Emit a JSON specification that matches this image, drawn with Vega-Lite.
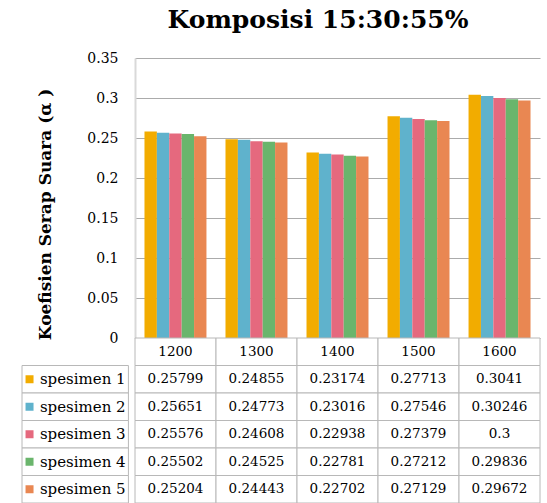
{
  "$schema": "https://vega.github.io/schema/vega-lite/v6.json",
  "background": "white",
  "padding": {"left": 21, "top": 8, "right": 0, "bottom": 0},
  "title": {"text": "Komposisi 15:30:55%", "font": "DejaVu Serif", "fontSize": 25, "fontWeight": "bold", "color": "black", "anchor": "middle", "dx": 37, "offset": 18},
  "config": {"view": {"stroke": null}, "font": "DejaVu Serif"},
  "spacing": 0,
  "bounds": "flush",
  "datasets": {
    "d": [
      {"freq": "1200", "series": "spesimen 1", "value": 0.25799},
      {"freq": "1200", "series": "spesimen 2", "value": 0.25651},
      {"freq": "1200", "series": "spesimen 3", "value": 0.25576},
      {"freq": "1200", "series": "spesimen 4", "value": 0.25502},
      {"freq": "1200", "series": "spesimen 5", "value": 0.25204},
      {"freq": "1300", "series": "spesimen 1", "value": 0.24855},
      {"freq": "1300", "series": "spesimen 2", "value": 0.24773},
      {"freq": "1300", "series": "spesimen 3", "value": 0.24608},
      {"freq": "1300", "series": "spesimen 4", "value": 0.24525},
      {"freq": "1300", "series": "spesimen 5", "value": 0.24443},
      {"freq": "1400", "series": "spesimen 1", "value": 0.23174},
      {"freq": "1400", "series": "spesimen 2", "value": 0.23016},
      {"freq": "1400", "series": "spesimen 3", "value": 0.22938},
      {"freq": "1400", "series": "spesimen 4", "value": 0.22781},
      {"freq": "1400", "series": "spesimen 5", "value": 0.22702},
      {"freq": "1500", "series": "spesimen 1", "value": 0.27713},
      {"freq": "1500", "series": "spesimen 2", "value": 0.27546},
      {"freq": "1500", "series": "spesimen 3", "value": 0.27379},
      {"freq": "1500", "series": "spesimen 4", "value": 0.27212},
      {"freq": "1500", "series": "spesimen 5", "value": 0.27129},
      {"freq": "1600", "series": "spesimen 1", "value": 0.3041},
      {"freq": "1600", "series": "spesimen 2", "value": 0.30246},
      {"freq": "1600", "series": "spesimen 3", "value": 0.3},
      {"freq": "1600", "series": "spesimen 4", "value": 0.29836},
      {"freq": "1600", "series": "spesimen 5", "value": 0.29672}
    ]
  },
  "vconcat": [
    {
      "width": 405,
      "height": 280,
      "data": {"name": "d"},
      "mark": {"type": "bar"},
      "encoding": {
        "x": {"field": "freq", "type": "nominal", "scale": {"paddingInner": 0.235, "paddingOuter": 0.117}, "axis": null},
        "xOffset": {"field": "series", "type": "nominal", "scale": {"paddingInner": 0, "paddingOuter": 0}},
        "y": {
          "field": "value", "type": "quantitative",
          "scale": {"domain": [0, 0.35], "nice": false},
          "axis": {
            "title": "Koefisien Serap Suara (α )",
            "titleFont": "DejaVu Serif", "titleFontSize": 17, "titleFontWeight": "bold", "titleColor": "black", "titlePadding": 32, "titleY": 156,
            "values": [0, 0.05, 0.1, 0.15, 0.2, 0.25, 0.3, 0.35], "format": "~g",
            "labelFont": "DejaVu Serif", "labelFontSize": 14, "labelColor": "black", "labelPadding": 17, "labelFlush": false,
            "ticks": false, "domain": true, "domainColor": "#d9d9d9", "domainWidth": 2,
            "grid": true, "gridColor": "#ababab", "gridWidth": 1
          }
        },
        "color": {"field": "series", "type": "nominal",
          "scale": {"domain": ["spesimen 1", "spesimen 2", "spesimen 3", "spesimen 4", "spesimen 5"], "range": ["#F2AC00", "#5FB2CC", "#E5697E", "#6AB56C", "#E98752"]},
          "legend": null}
      }
    },
    {
      "width": 405,
      "height": 165,
      "resolve": {"scale": {"x": "independent"}},
      "layer": [
        {
          "layer": [
            {
              "data": {"name": "d"},
              "mark": {"type": "rect", "fill": "white", "stroke": "#b8b8b8", "strokeWidth": 1},
              "encoding": {
                "x": {"field": "freq", "type": "nominal", "scale": {"paddingInner": 0, "paddingOuter": 0}, "axis": null},
                "y": {"field": "series", "type": "nominal", "scale": {"domain": ["hdr", "spesimen 1", "spesimen 2", "spesimen 3", "spesimen 4", "spesimen 5"], "paddingInner": 0, "paddingOuter": 0}, "axis": null}
              }
            },
            {
              "data": {"name": "d"},
              "mark": {"type": "text", "font": "DejaVu Serif", "fontSize": 13.5, "color": "black"},
              "encoding": {
                "x": {"field": "freq", "type": "nominal", "axis": null},
                "y": {"field": "series", "type": "nominal", "scale": {"domain": ["hdr", "spesimen 1", "spesimen 2", "spesimen 3", "spesimen 4", "spesimen 5"], "paddingInner": 0, "paddingOuter": 0}, "axis": null},
                "text": {"field": "value", "type": "nominal"}
              }
            },
            {
              "data": {"name": "d"},
              "transform": [{"filter": "datum.series == 'spesimen 1'"}],
              "mark": {"type": "rect", "fill": "white", "stroke": "#b8b8b8", "strokeWidth": 1},
              "encoding": {
                "x": {"field": "freq", "type": "nominal", "axis": null},
                "y": {"datum": "hdr", "type": "nominal", "scale": {"domain": ["hdr", "spesimen 1", "spesimen 2", "spesimen 3", "spesimen 4", "spesimen 5"], "paddingInner": 0, "paddingOuter": 0}, "axis": null}
              }
            },
            {
              "data": {"name": "d"},
              "transform": [{"filter": "datum.series == 'spesimen 1'"}],
              "mark": {"type": "text", "font": "DejaVu Serif", "fontSize": 13.5, "color": "black"},
              "encoding": {
                "x": {"field": "freq", "type": "nominal", "axis": null},
                "y": {"datum": "hdr", "type": "nominal", "scale": {"domain": ["hdr", "spesimen 1", "spesimen 2", "spesimen 3", "spesimen 4", "spesimen 5"], "paddingInner": 0, "paddingOuter": 0}, "axis": null},
                "text": {"field": "freq", "type": "nominal"}
              }
            }
          ]
        },
        {
          "data": {"name": "d"},
          "transform": [{"filter": "datum.freq == '1200'"}],
          "layer": [
            {
              "mark": {"type": "rect", "fill": "white", "stroke": "#b8b8b8", "strokeWidth": 1},
              "encoding": {
                "x": {"datum": 0, "type": "quantitative", "scale": {"domain": [0, 113], "range": [-113, 0]}, "axis": null},
                "x2": {"datum": 113},
                "y": {"field": "series", "type": "nominal", "scale": {"domain": ["hdr", "spesimen 1", "spesimen 2", "spesimen 3", "spesimen 4", "spesimen 5"], "paddingInner": 0, "paddingOuter": 0}, "axis": null}
              }
            },
            {
              "mark": {"type": "point", "shape": "square", "filled": true, "size": 64, "opacity": 1},
              "encoding": {
                "x": {"datum": 8, "type": "quantitative", "axis": null},
                "y": {"field": "series", "type": "nominal", "axis": null},
                "color": {"field": "series", "type": "nominal",
                  "scale": {"domain": ["spesimen 1", "spesimen 2", "spesimen 3", "spesimen 4", "spesimen 5"], "range": ["#F2AC00", "#5FB2CC", "#E5697E", "#6AB56C", "#E98752"]},
                  "legend": null}
              }
            },
            {
              "mark": {"type": "text", "align": "left", "font": "DejaVu Serif", "fontSize": 15, "color": "black"},
              "encoding": {
                "x": {"datum": 19, "type": "quantitative", "axis": null},
                "y": {"field": "series", "type": "nominal", "axis": null},
                "text": {"field": "series", "type": "nominal"}
              }
            }
          ]
        }
      ]
    }
  ]
}
